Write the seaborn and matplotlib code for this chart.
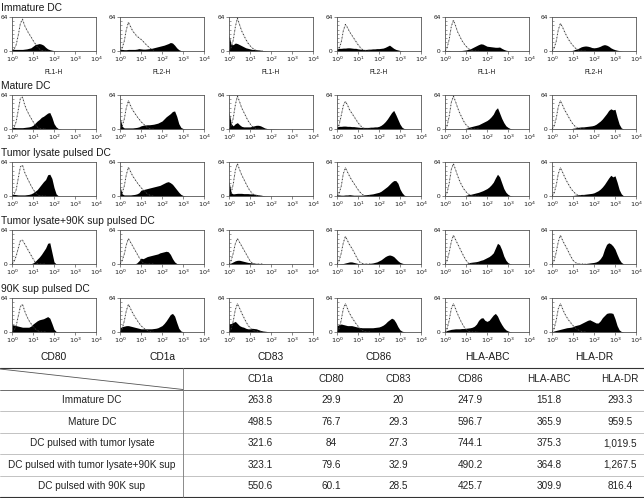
import numpy as np
import pandas as pd
import matplotlib
matplotlib.use("Agg")
import matplotlib.pyplot as plt
import seaborn as sns
from matplotlib import font_manager
from matplotlib.ticker import FixedLocator, NullLocator

sns.set_style("ticks")
plt.rcParams['font.family'] = ['Liberation Sans', 'DejaVu Sans']

# ---------------- data ----------------
row_titles = ["Immature DC", "Mature DC", "Tumor lysate pulsed DC",
              "Tumor lysate+90K sup pulsed DC", "90K sup pulsed DC"]
markers = ["CD80", "CD1a", "CD83", "CD86", "HLA-ABC", "HLA-DR"]
channel_labels = ["FL1-H", "FL2-H", "FL1-H", "FL2-H", "FL1-H", "FL2-H"]
x_tick_values = [1, 10, 100, 1000, 10000]
x_tick_labels = [r"$10^{0}$", r"$10^{1}$", r"$10^{2}$", r"$10^{3}$", r"$10^{4}$"]
y_tick_values = [0, 64]

# log10 fluorescence positions of the histogram points
stain_grid = [0.0, 0.1, 0.2, 0.3, 0.4, 0.5, 0.6, 0.7, 0.8, 0.9, 1.0, 1.1, 1.2, 1.3, 1.4,
              1.5, 1.6, 1.7, 1.8, 1.9, 2.0, 2.1, 2.2, 2.3, 2.4, 2.5, 2.6, 2.7, 2.8, 2.9,
              3.0, 3.1, 3.2, 3.3, 3.4]
ctrl_grid = [0.0, 0.1, 0.2, 0.3, 0.4, 0.5, 0.6, 0.7, 0.8, 0.9, 1.0, 1.1, 1.2, 1.3, 1.4, 1.5, 1.6]

# stained cells (filled black), one list per marker: CD80, CD1a, CD83, CD86, HLA-ABC, HLA-DR
immature_stain = [
    [4, 3, 3, 3, 3, 3, 3.5, 4, 5, 6, 9, 12, 13, 14, 13, 11, 7, 4, 2.5, 1.5, 0.8, 0.4, 0.2],
    [3, 3, 2.5, 2.5, 3, 3, 3, 3, 3.5, 4.5, 4, 3.5, 3.5, 4, 4.5, 5, 6, 7, 8, 9, 10, 11, 12.5, 14, 16, 15, 11, 6, 2.5, 0.8, 0.2],
    [30, 12, 12, 15, 14, 12, 10, 8, 6, 5, 4, 3, 3, 2.5, 2, 1.5, 1, 0.8, 0.5, 0.3, 0.2],
    [4, 5, 5, 5.5, 5.5, 6, 6, 5.5, 5, 5, 4, 3.5, 3, 3, 3, 3.5, 3.5, 4, 4, 4.5, 4.5, 5, 5.5, 7, 9, 11, 8, 5, 3, 2, 1, 0.3],
    [1, 1, 1, 0.5, 0.5, 0.5, 0.5, 0.8, 1, 1.5, 2, 3, 4, 6, 8, 10, 12, 13.5, 13, 11, 9, 8.5, 8, 7.5, 7, 7, 7.5, 5, 3, 1.5, 0.8, 0.2],
    [0.5, 0.5, 0.5, 0.5, 0.5, 0.5, 0.5, 0.5, 0.5, 0.5, 1.5, 3, 4, 6, 8, 9, 9.5, 9, 8, 6.5, 6, 6.5, 7.5, 9, 11, 12, 11, 9, 6, 4, 2.5, 1.5, 0.8, 0.3],
]
mature_stain = [
    [3, 3, 2.5, 2.5, 2.5, 2.5, 3, 3.5, 4, 5, 7, 11, 15, 18, 22, 24, 27, 30, 31, 22, 10, 4, 1, 0.3],
    [22, 5, 2, 2, 2, 2, 2, 2.5, 3, 4, 6, 7, 7.5, 8, 8, 8.5, 9, 10, 11, 13, 15, 19, 23, 26, 29, 33, 34, 24, 10, 3, 1, 0.2],
    [33, 10, 6, 10, 12, 8, 5, 4, 4, 4, 4, 5, 6, 7, 7, 6, 4, 2, 1, 0.5, 0.5, 0.5, 0.3, 0.2],
    [4, 5, 5, 5.5, 5.5, 5, 5, 4.5, 4.5, 4, 3.5, 3, 3, 3, 3, 3, 3.5, 3.5, 4, 4, 5, 7, 10, 14, 19, 25, 31, 35, 27, 18, 9, 3, 0.8, 0.2],
    [0.5, 0.5, 0.5, 0.5, 0.5, 0.5, 0.5, 0.5, 0.5, 0.5, 1.5, 2.5, 4, 5, 6, 7, 8, 10, 12, 14, 16, 19, 23, 28, 36, 40, 30, 20, 12, 6, 3, 1, 0.3],
    [0.5, 0.5, 0.5, 0.5, 0.5, 0.5, 0.5, 0.5, 0.5, 0.5, 1.5, 2, 3, 3.5, 4, 4, 4.5, 5, 5.5, 6, 7, 9, 12, 15, 19, 24, 29, 35, 38, 36, 37, 22, 9, 2, 0.3],
]
lysate_stain = [
    [3, 3, 2.5, 2, 2, 2, 2, 2.5, 3, 4, 6, 9, 12, 17, 22, 27, 31, 40, 41, 33, 16, 4, 0.5],
    [18, 4, 2, 2, 2, 2, 2.5, 3, 4, 6, 11, 12, 13, 14, 15, 16, 17, 18, 19, 20, 22, 24, 26, 27, 25, 22, 17, 12, 7, 3, 1, 0.2],
    [28, 6, 4, 4.5, 5, 5, 5, 4.5, 4.5, 4.5, 4, 4, 3.5, 3, 2, 1.5, 1, 0.5, 0.3, 0.2],
    [2, 2, 1.5, 1.5, 2, 2, 2.5, 2, 1.5, 1.5, 1.5, 1.5, 1.5, 2, 2.5, 3, 3.5, 4, 5, 6, 7, 9, 12, 15, 18, 22, 26, 29, 29, 24, 13, 6, 1.5, 0.3],
    [0.5, 0.5, 0.5, 0.5, 0.5, 0.5, 0.5, 0.5, 0.5, 0.5, 1.5, 2.5, 3, 4, 5, 6, 7, 8.5, 10, 12, 14, 17, 21, 26, 34, 41, 36, 25, 14, 7, 3, 0.8, 0.2],
    [0.5, 0.5, 0.5, 0.5, 0.5, 0.5, 0.5, 0.5, 0.5, 0.5, 1, 1.5, 2, 2.5, 3, 3, 3.5, 4, 4.5, 5, 6, 8, 10, 13, 17, 22, 28, 34, 39, 36, 38, 26, 12, 4, 0.5],
]
lysate90k_stain = [
    [0, 0, 0, 0, 0, 0, 0, 0, 0, 0.5, 2, 5, 9, 13, 18, 24, 30, 39, 40, 22, 4, 0.3],
    [0, 0, 0, 0, 0, 0, 0, 0, 2, 6, 11, 10, 12, 14, 15, 16, 17, 18, 19, 21, 22, 23, 24, 23, 18, 10, 4, 1, 0.2],
    [1, 2, 4, 6, 7, 7, 6, 5, 4, 3, 2.5, 2, 1.5, 1, 0.8, 0.5, 0.3, 0.2],
    [0, 0, 0.5, 1, 2, 3, 4, 4, 3, 2, 1, 0.5, 0.5, 0.5, 0.5, 1, 1.5, 2, 3, 4, 6, 8, 11, 14, 16, 17, 16, 14, 10, 6, 3, 1.5, 0.5],
    [0, 0, 0, 0, 0, 0, 0, 0, 0, 0, 0.5, 1.5, 3, 3.5, 4, 4.5, 5.5, 7, 8, 10, 12, 14, 17, 21, 30, 39, 36, 27, 15, 7, 2.5, 0.5],
    [0, 0, 0, 0, 0, 0, 0, 0, 0, 0, 0, 0, 0, 0, 0, 0.5, 1, 1.5, 2, 2.5, 3, 4, 6, 10, 16, 28, 37, 40, 38, 34, 28, 18, 9, 3, 0.5],
]
sup90k_stain = [
    [14, 13, 12, 11, 10, 9, 9, 9, 9, 11, 15, 18, 21, 23, 24, 25, 27, 29, 26, 16, 5, 1, 0.2],
    [8, 10, 11, 12, 12, 11, 10, 9, 8, 7, 6, 6, 6, 6, 6, 6, 6.5, 7, 8, 10, 12, 16, 21, 27, 33, 35, 30, 18, 7, 2, 0.5],
    [15, 16, 18, 20, 16, 12, 10, 9, 7, 6, 6, 7, 6.5, 6, 4.5, 3, 2, 1.5, 1, 0.5, 0.3],
    [12, 14, 15, 14, 13, 12, 12, 12, 11, 10, 9, 8.5, 8, 8, 8, 8, 8, 8, 8.5, 9, 9.5, 11, 13, 16, 20, 23, 26, 24, 18, 10, 4, 1.5, 0.5],
    [1, 3, 4, 5, 5.5, 6, 6, 6, 6.5, 6.5, 7, 7.5, 8, 9, 11, 15, 22, 26, 27, 22, 20, 22, 27, 32, 35, 30, 21, 14, 8, 4, 2, 0.5],
    [0.5, 2, 3, 4, 5, 6, 7, 8, 8.5, 9, 10, 12, 13, 14, 16, 18, 20, 22, 23, 21, 19, 17, 17, 21, 27, 31, 35, 36, 36, 35, 25, 12, 4, 1, 0.2],
]

# isotype controls (dotted outline)
immature_ctrl = [
    [0, 3, 12, 30, 52, 60, 48, 40, 33, 27, 20, 14, 8, 4, 1, 0, 0],
    [0, 5, 18, 40, 54, 46, 38, 33, 28, 25, 22, 18, 14, 10, 6, 3, 1],
    [0, 6, 20, 45, 62, 50, 38, 30, 22, 15, 10, 6, 3, 1, 0, 0, 0],
    [0, 5, 16, 38, 50, 44, 36, 30, 24, 18, 12, 7, 3, 1, 0, 0, 0],
    [0, 6, 22, 46, 58, 48, 36, 28, 20, 14, 9, 5, 2, 1, 0, 0, 0],
    [0, 5, 18, 40, 52, 45, 36, 28, 21, 15, 10, 6, 3, 1, 0, 0, 0],
]
mature_ctrl = [
    [0, 3, 14, 36, 58, 60, 46, 36, 28, 21, 14, 8, 4, 1, 0, 0, 0],
    [0, 5, 18, 40, 53, 44, 36, 30, 24, 19, 14, 10, 6, 3, 1, 0, 0],
    [0, 5, 20, 45, 62, 52, 40, 32, 24, 16, 10, 5, 2, 1, 0, 0, 0],
    [0, 8, 25, 44, 52, 45, 36, 30, 24, 18, 12, 7, 3, 1, 0, 0, 0],
    [0, 6, 24, 50, 62, 52, 40, 30, 22, 14, 8, 4, 2, 0, 0, 0, 0],
    [0, 5, 20, 42, 53, 45, 36, 29, 22, 15, 9, 5, 2, 1, 0, 0, 0],
]
lysate_ctrl = [
    [0, 3, 12, 34, 55, 58, 45, 36, 28, 20, 13, 7, 3, 1, 0, 0, 0],
    [0, 5, 18, 40, 54, 46, 38, 32, 26, 21, 16, 12, 8, 4, 2, 0, 0],
    [0, 5, 22, 48, 61, 50, 40, 32, 24, 16, 10, 5, 2, 1, 0, 0, 0],
    [0, 5, 18, 42, 53, 45, 37, 30, 24, 18, 12, 7, 3, 1, 0, 0, 0],
    [0, 6, 24, 50, 61, 50, 38, 28, 20, 13, 8, 4, 2, 0, 0, 0, 0],
    [0, 5, 20, 42, 53, 45, 36, 28, 21, 14, 9, 5, 2, 1, 0, 0, 0],
]
lysate90k_ctrl = [
    [0, 5, 15, 30, 44, 45, 38, 31, 24, 17, 10, 4, 1, 0, 0, 0, 0],
    [0, 6, 18, 36, 48, 41, 34, 27, 20, 13, 7, 2, 0, 0, 0, 0, 0],
    [0, 6, 20, 38, 48, 41, 34, 27, 20, 13, 6, 2, 0, 0, 0, 0, 0],
    [0, 6, 20, 40, 52, 44, 36, 30, 23, 15, 8, 3, 1, 0, 0, 0, 0],
    [0, 6, 22, 42, 54, 46, 38, 30, 22, 14, 7, 2, 0, 0, 0, 0, 0],
    [0, 6, 22, 42, 54, 45, 37, 30, 22, 14, 7, 3, 1, 0, 0, 0, 0],
]
sup90k_ctrl = [
    [0, 3, 12, 30, 48, 52, 40, 30, 22, 16, 10, 6, 3, 1, 0, 0, 0],
    [0, 5, 20, 40, 52, 44, 36, 29, 23, 17, 12, 8, 5, 3, 1, 0, 0],
    [0, 5, 20, 42, 53, 45, 36, 28, 20, 13, 8, 4, 2, 1, 0, 0, 0],
    [0, 6, 22, 44, 53, 44, 35, 28, 22, 16, 11, 6, 3, 1, 0, 0, 0],
    [0, 6, 22, 44, 53, 44, 34, 25, 17, 10, 5, 2, 0, 0, 0, 0, 0],
    [0, 6, 22, 44, 53, 44, 35, 28, 22, 17, 12, 8, 5, 3, 1, 0, 0],
]

# table (MFI)
table_columns = ["CD1a", "CD80", "CD83", "CD86", "HLA-ABC", "HLA-DR"]
table_rows = ["Immature DC", "Mature DC", "DC pulsed with tumor lysate",
              "DC pulsed with tumor lysate+90K sup", "DC pulsed with 90K sup"]
table_values = [
    ["263.8", "29.9", "20", "247.9", "151.8", "293.3"],
    ["498.5", "76.7", "29.3", "596.7", "365.9", "959.5"],
    ["321.6", "84", "27.3", "744.1", "375.3", "1,019.5"],
    ["323.1", "79.6", "32.9", "490.2", "364.8", "1,267.5"],
    ["550.6", "60.1", "28.5", "425.7", "309.9", "816.4"],
]

stain_rows = [immature_stain, mature_stain, lysate_stain, lysate90k_stain, sup90k_stain]
ctrl_rows = [immature_ctrl, mature_ctrl, lysate_ctrl, lysate90k_ctrl, sup90k_ctrl]

# ---------------- layout (pixels) ----------------
W, H = 644, 498
fig = plt.figure(figsize=(W / 100, H / 100), dpi=100)

axes_tops = [17, 95, 162, 230, 298]
title_ys = [8, 86, 153, 221, 289]
col_lefts = [12, 120, 229, 337, 445, 552]
ax_w, ax_h = 84, 34

names = {f.name for f in font_manager.fontManager.ttflist}
narrow = ['Liberation Sans Narrow', 'Liberation Sans', 'DejaVu Sans'] if 'Liberation Sans Narrow' in names \
    else ['Liberation Sans', 'DejaVu Sans']

ink = '#1a1a1a'
spine_c = '#555555'

# background axes for table
tax = fig.add_axes([0, 0, 1, 1])
tax.set_xlim(0, W)
tax.set_ylim(H, 0)
tax.axis('off')
tax.patch.set_alpha(0)

x_stain = 10 ** np.array(stain_grid)
x_ctrl = 10 ** np.array(ctrl_grid)

for r in range(5):
    fig.text(1 / W, 1 - title_ys[r] / H, row_titles[r], fontsize=7.4, color=ink,
             va='center', ha='left')
    for c in range(6):
        top = axes_tops[r]
        ax = fig.add_axes([col_lefts[c] / W, 1 - (top + ax_h) / H, ax_w / W, ax_h / H])
        ax.set_xscale('log')
        ax.set_xlim(1, 1e4)
        ax.set_ylim(0, 64)
        s = list(stain_rows[r][c]) + [0] * (len(stain_grid) - len(stain_rows[r][c]))
        k = list(ctrl_rows[r][c])
        ax.fill_between(x_stain, 0, s, color='black', lw=0, zorder=2)
        df = pd.DataFrame({"x": x_ctrl, "y": k})
        sns.lineplot(data=df, x="x", y="y", ax=ax, color='#3a3a3a', lw=0.7,
                     linestyle=(0, (1.5, 0.8, 0.4, 0.8)), zorder=3)
        ax.set_ylabel("")
        ax.xaxis.set_major_locator(FixedLocator(x_tick_values))
        ax.xaxis.set_minor_locator(NullLocator())
        ax.set_xticklabels(x_tick_labels)
        ax.set_yticks(y_tick_values)
        ax.set_yticklabels([str(v) for v in y_tick_values])
        ax.yaxis.set_minor_locator(FixedLocator([8, 16, 24, 32, 40, 48, 56]))
        ax.tick_params(which='major', length=2, width=0.5, pad=1, labelsize=4.6,
                       color=spine_c, labelcolor=ink, direction='out')
        ax.tick_params(axis='y', which='minor', length=1.6, width=0.4, color=spine_c,
                       direction='in', left=True)
        for sp in ax.spines.values():
            sp.set_color(spine_c)
            sp.set_linewidth(0.6)
        if r == 0:
            ax.set_xlabel(channel_labels[c], fontsize=4.8, labelpad=3.5, color=ink)
        elif r == 4:
            ax.set_xlabel(markers[c], fontsize=7.4, labelpad=4.5, color=ink)
        else:
            ax.set_xlabel("")

# ---------------- table ----------------
t_top, t_bottom = 368, 497
n_lines = len(table_rows) + 1
row_h = (t_bottom - t_top) / n_lines
split_x = 183
col_centers = [260, 331, 398, 470, 549, 620]
label_center = 92

tax.plot([0, W], [t_top, t_top], color='#333333', lw=0.8)
tax.plot([0, W], [t_bottom, t_bottom], color='#333333', lw=0.8)
tax.plot([0, W], [t_top + row_h, t_top + row_h], color='#555555', lw=0.6)
for i in range(2, n_lines):
    y = t_top + i * row_h
    tax.plot([0, W], [y, y], color='#aaaaaa', lw=0.5)
tax.plot([split_x, split_x], [t_top, t_bottom], color='#777777', lw=0.6)
tax.plot([0, split_x], [t_top + 1, t_top + row_h], color='#555555', lw=0.6)

for j, name in enumerate(table_columns):
    tax.text(col_centers[j], t_top + row_h / 2, name, ha='center', va='center',
             fontsize=7.2, family=narrow, color='#222222')
for i, name in enumerate(table_rows):
    yc = t_top + (i + 1.5) * row_h
    tax.text(label_center, yc, name, ha='center', va='center', fontsize=7.2,
             family=narrow, color='#222222')
    for j, v in enumerate(table_values[i]):
        tax.text(col_centers[j], yc, v, ha='center', va='center', fontsize=7.2,
                 family=narrow, color='#222222')

fig.savefig("out.png", dpi=100)
